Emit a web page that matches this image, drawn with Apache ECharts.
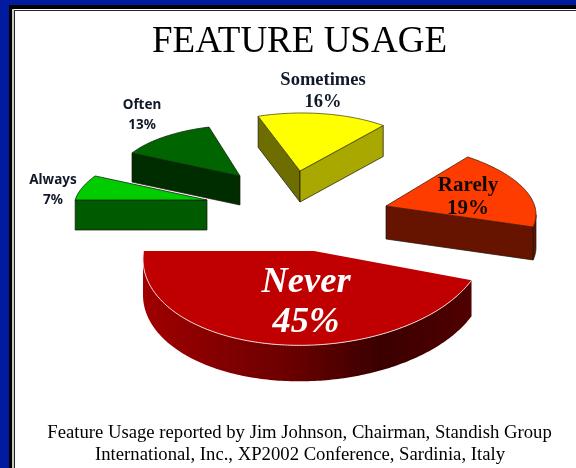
<!DOCTYPE html>
<html>
<head>
<meta charset="utf-8">
<style>html,body{margin:0;padding:0;background:#fff}#c{width:576px;height:468px}</style>
<script src="https://cdn.jsdelivr.net/npm/echarts@6/dist/echarts.min.js"></script>
</head>
<body>
<div id="c"></div>
<script>
// ---- data ----
var categories = ['Never', 'Always', 'Often', 'Sometimes', 'Rarely'];
var values = [45, 7, 13, 16, 19];
var firstSliceAngle = 18;
var titleText = 'FEATURE USAGE';
var captionLines = [
  'Feature Usage reported by Jim Johnson, Chairman, Standish Group',
  'International, Inc., XP2002 Conference, Sardinia, Italy'
];

// ---- layout & style (per slice, same order as categories) ----
var apexX =   [314, 207, 240, 300, 386];
var apexY =   [251, 200, 176, 171, 206];
var radiusX = [171, 133, 123, 132, 150];
var radiusY = [ 94,  56,  51,  58,  64];
var shear =   [ -8,-7.5,-1.7,-0.8, 8.5];
var turn =    [4.9, 7.6, 3.4,-0.5,-6.6];
var depth =   [ 36,  30,  29,  31,  33];
var topColor = ['#c00000', '#00cc00', '#006400', '#ffff00', '#ff3c00'];
var inWall =   ['#5a0000', '#005a00', '#002d00', '#6e6e00', '#661400'];
var outWall =  ['#5a0000', '#005a00', '#002d00', '#a8a800', '#661400'];
var edgeColor = ['#f2d6d6', '#0a2a0a', '#0a2a0a', '#4a4a10', '#4a1a08'];
var labelX = [306, 53, 142, 323, 468];
var labelY = [303, 190, 115, 91, 197];
var labelFont = [
  'italic bold 36.5px "Liberation Serif"',
  'bold 13.5px "Noto Sans"',
  'bold 13.5px "Noto Sans"',
  'bold 18.5px "Liberation Serif"',
  'bold 21px "Liberation Serif"'
];
var labelLine = [40, 20, 20, 22, 23];
var labelColor = ['#ffffff', '#10182a', '#10182a', '#10182a', '#120808'];

var total = values.reduce(function (a, b) { return a + b; }, 0);
var startAngles = [];
values.reduce(function (acc, v, i) { startAngles[i] = acc; return acc + v / total * 360; }, firstSliceAngle);

function renderSlice(params, api) {
  var i = params.dataIndex;
  var sweep = api.value(0) / total * 360;
  var a0 = (startAngles[i] + turn[i]) * Math.PI / 180;
  var a1 = a0 + sweep * Math.PI / 180;
  var ax = apexX[i], ay = apexY[i], d = depth[i];
  var arc = [];
  var n = Math.max(8, Math.round(sweep));
  for (var k = 0; k <= n; k++) {
    var t = a0 + (a1 - a0) * k / n;
    arc.push([ax + radiusX[i] * Math.cos(t), ay + radiusY[i] * Math.sin(t) + shear[i] * Math.cos(t)]);
  }
  var apex = [ax, ay];
  var kids = [];
  function down(p) { return [p[0], p[1] + d]; }
  function quad(a, b, fill) {
    kids.push({ type: 'polygon', shape: { points: [a, b, down(b), down(a)] },
      style: { fill: fill, stroke: '#1a1208', lineWidth: 0.7, opacity: 1 } });
  }
  // flat radial wall on the start side
  if (arc[0][0] < ax) quad(apex, arc[0], inWall[i]);
  // curved outer wall: only its front-facing run
  var front = [];
  for (var j = 0; j < arc.length; j++) {
    var prev = arc[Math.max(0, j - 1)], next = arc[Math.min(arc.length - 1, j + 1)];
    if (next[0] < prev[0]) front.push(arc[j]);
  }
  if (front.length > 1) {
    var fill = outWall[i];
    if (i === 0) {
      fill = new echarts.graphic.LinearGradient(0, 0, 1, 0, [
        { offset: 0, color: '#a00000' },
        { offset: 0.45, color: '#6a0000' },
        { offset: 0.72, color: '#3a0000' },
        { offset: 1, color: '#500000' }
      ]);
    }
    kids.push({ type: 'polygon',
      shape: { points: front.concat(front.map(down).reverse()) },
      style: { fill: fill, stroke: i === 0 ? 'none' : '#1a1208', lineWidth: 0.7 } });
  }
  // flat radial wall on the end side
  if (arc[n][0] > ax) quad(arc[n], apex, outWall[i]);
  // top face
  kids.push({ type: 'polygon', shape: { points: [apex].concat(arc) },
    style: { fill: topColor[i], stroke: i === 0 ? 'none' : edgeColor[i], lineWidth: 0.8 } });
  if (i === 0) {
    kids.push({ type: 'polyline', shape: { points: arc },
      style: { fill: 'none', stroke: edgeColor[i], lineWidth: 1 } });
  }
  // label
  var lines = [categories[i], api.value(0) + '%'];
  lines.forEach(function (txt, li) {
    kids.push({ type: 'text', style: {
      text: txt, x: labelX[i], y: labelY[i] + (li - 0.5) * labelLine[i],
      font: labelFont[i], fill: labelColor[i], align: 'center', verticalAlign: 'middle'
    } });
  });
  return { type: 'group', children: kids };
}

var chart = echarts.init(document.getElementById('c'), null, { renderer: 'canvas', width: 576, height: 468 });
chart.setOption({
  animation: false,
  backgroundColor: '#ffffff',
  title: {
    text: titleText, left: 152, top: 24, padding: 0,
    textStyle: { fontFamily: 'Liberation Serif', fontSize: 37, fontWeight: 'normal', color: '#000000' }
  },
  graphic: [
    { type: 'rect', z: 0, shape: { x: 0, y: 0, width: 576, height: 5 }, style: { fill: '#001aa0' } },
    { type: 'rect', z: 0, shape: { x: 0, y: 0, width: 9, height: 468 }, style: { fill: '#001aa0' } },
    { type: 'rect', z: 0, shape: { x: 9, y: 5, width: 567, height: 4 }, style: { fill: '#000000' } },
    { type: 'rect', z: 0, shape: { x: 9, y: 5, width: 3, height: 463 }, style: { fill: '#000000' } },
    { type: 'rect', z: 0, shape: { x: 12, y: 9, width: 2, height: 459 }, style: { fill: '#c8c8c8' } },
    { type: 'rect', z: 0, shape: { x: 14, y: 10, width: 1, height: 458 }, style: { fill: '#222222' } },
    { type: 'rect', z: 0, shape: { x: 14, y: 10, width: 562, height: 1 }, style: { fill: '#222222' } },
    { type: 'text', z: 1, style: { text: captionLines[0], x: 299.5, y: 433.5, align: 'center', verticalAlign: 'middle',
      font: '18.7px "Liberation Serif"', fill: '#000000' } },
    { type: 'text', z: 1, style: { text: captionLines[1], x: 300, y: 455.5, align: 'center', verticalAlign: 'middle',
      font: '18.7px "Liberation Serif"', fill: '#000000' } }
  ],
  series: [{
    type: 'custom',
    coordinateSystem: 'none',
    renderItem: renderSlice,
    data: values.map(function (v) { return [v]; }),
    silent: true
  }]
});
</script>
</body>
</html>
